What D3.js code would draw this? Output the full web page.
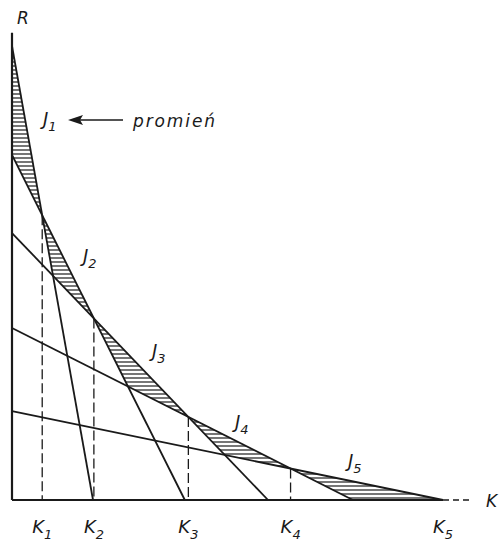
<!DOCTYPE html>
<html>
<head>
<meta charset="utf-8">
<script src="https://cdn.jsdelivr.net/npm/d3@7"></script>
<style>
  body { margin: 0; background: #fff; }
  text { font-family: "DejaVu Sans", sans-serif; font-style: italic; fill: #1a1a1a; }
</style>
</head>
<body>
<div class="chart"></div>
<script>
// each line J_i runs from (0, R) on the R axis to (K, 0) on the K axis
const names = ['1', '2', '3', '4', '5'];
const rIntercepts = [100, 76, 58.8, 37.9, 19.6];
const kIntercepts = [18.8, 40.1, 59.4, 79.1, 100];
const kTicks = ['1', '2', '3', '4', '5'];

const width = 499;
const height = 542;
const ink = '#1a1a1a';

const svg = d3.select('.chart')
  .append('svg')
  .attr('width', width)
  .attr('height', height);

const x = d3.scaleLinear().domain([0, 100]).range([12, 443]);
const y = d3.scaleLinear().domain([0, 100]).range([500, 46]);

// hatch pattern
svg.append('defs')
  .append('pattern')
    .attr('id', 'hatch')
    .attr('patternUnits', 'userSpaceOnUse')
    .attr('width', 8)
    .attr('height', 4)
  .append('line')
    .attr('x1', 0).attr('x2', 8)
    .attr('y1', 2).attr('y2', 2)
    .attr('stroke', ink)
    .attr('stroke-width', 1.2);

// lines as a*x + b*y = c, axes included at both ends
let lines = [{a: 1, b: 0, c: 0}]; // R axis
rIntercepts.forEach((r, i) => {
  lines.push({a: 1 / kIntercepts[i], b: 1 / r, c: 1});
});
lines.push({a: 0, b: 1, c: 0}); // K axis

function meet(p, q) {
  const det = p.a * q.b - q.a * p.b;
  return [(p.c * q.b - q.c * p.b) / det, (p.a * q.c - q.a * p.c) / det];
}

// hatched triangles between three neighbouring lines
const triangles = names.map((d, i) => {
  const l0 = lines[i], l1 = lines[i + 1], l2 = lines[i + 2];
  return [meet(l0, l1), meet(l0, l2), meet(l1, l2)];
});

svg.append('g')
  .selectAll('path')
  .data(triangles)
  .enter().append('path')
    .attr('d', d => 'M' + d.map(p => [x(p[0]), y(p[1])].join(',')).join('L') + 'Z')
    .attr('fill', 'url(#hatch)')
    .attr('stroke', 'none');

// crossing points of neighbouring lines
const crossings = d3.range(rIntercepts.length - 1).map(i => meet(lines[i + 1], lines[i + 2]));

svg.append('g')
  .selectAll('line')
  .data(crossings)
  .enter().append('line')
    .attr('x1', d => x(d[0]))
    .attr('x2', d => x(d[0]))
    .attr('y1', d => y(d[1]))
    .attr('y2', y(0))
    .attr('stroke', ink)
    .attr('stroke-width', 1.3)
    .style('stroke-dasharray', '10,4');

// straight lines J1..J5
svg.append('g')
  .selectAll('line')
  .data(rIntercepts)
  .enter().append('line')
    .attr('x1', x(0))
    .attr('y1', d => y(d))
    .attr('x2', (d, i) => x(kIntercepts[i]))
    .attr('y2', y(0))
    .attr('stroke', ink)
    .attr('stroke-width', 1.8);

// axes
const axes = svg.append('g');
axes.append('line')
  .attr('x1', x(0)).attr('x2', x(0))
  .attr('y1', y(0)).attr('y2', y(102.9))
  .attr('stroke', ink).attr('stroke-width', 2.2);
axes.append('line')
  .attr('x1', x(0)).attr('x2', x(100))
  .attr('y1', y(0)).attr('y2', y(0))
  .attr('stroke', ink).attr('stroke-width', 2.2);
axes.append('line')
  .attr('x1', x(100)).attr('x2', x(106.3))
  .attr('y1', y(0)).attr('y2', y(0))
  .attr('stroke', ink).attr('stroke-width', 1.3)
  .style('stroke-dasharray', '6,4');

axes.append('text')
  .attr('x', 17).attr('y', 24)
  .style('font-size', '17px')
  .text('R');
axes.append('text')
  .attr('x', 486).attr('y', 507)
  .style('font-size', '17px')
  .text('K');

// K labels under the axis
const kPos = crossings.map(d => d[0]).concat([kIntercepts[kIntercepts.length - 1]]);

const kLabels = svg.append('g')
  .selectAll('text')
  .data(kTicks)
  .enter().append('text')
    .attr('x', (d, i) => x(kPos[i]) - 10)
    .attr('y', 533)
    .style('font-size', '18px');
kLabels.append('tspan').text('K');
kLabels.append('tspan')
  .attr('dy', 6)
  .style('font-size', '13px')
  .text(d => d);

// J labels
const labelPos = [[43, 125], [83, 262], [152, 357], [235, 428], [348, 467]];

const jLabels = svg.append('g')
  .selectAll('text')
  .data(names)
  .enter().append('text')
    .attr('x', (d, i) => labelPos[i][0])
    .attr('y', (d, i) => labelPos[i][1])
    .style('font-size', '18px');
jLabels.append('tspan').text('J');
jLabels.append('tspan')
  .attr('dy', 6)
  .style('font-size', '13px')
  .text(d => d);

// arrow pointing at J1
svg.append('line')
  .attr('x1', 123).attr('x2', 80)
  .attr('y1', 120).attr('y2', 120)
  .attr('stroke', ink).attr('stroke-width', 1.4);
svg.append('path')
  .attr('d', 'M68,120L83,115L80,120L83,125Z')
  .attr('fill', ink);

svg.append('text')
  .attr('x', 133).attr('y', 127)
  .attr('textLength', 82)
  .attr('lengthAdjust', 'spacing')
  .style('font-size', '17px')
  .text('promień');
</script>
</body>
</html>
